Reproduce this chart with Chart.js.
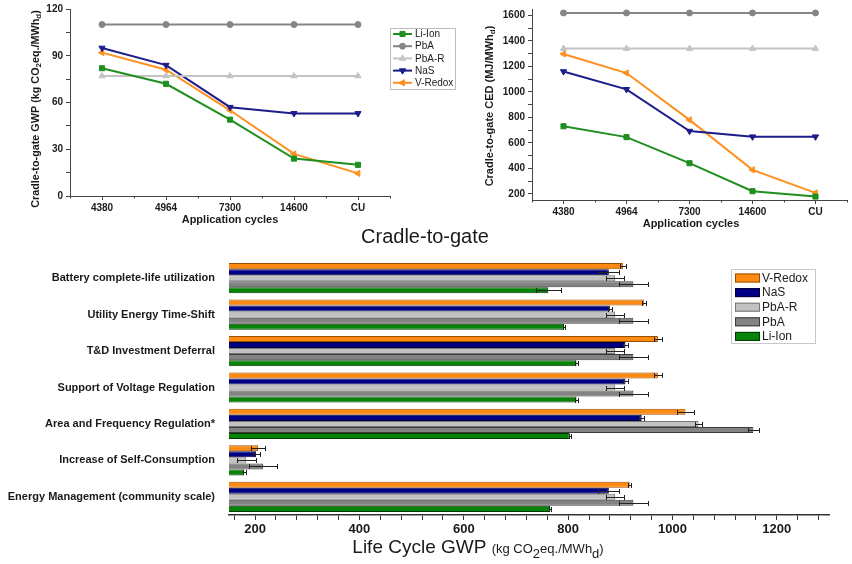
<!DOCTYPE html>
<html>
<head>
<meta charset="utf-8">
<script src="https://cdn.jsdelivr.net/npm/chart.js@4.4.0/dist/chart.umd.min.js"></script>
<style>
  html, body { margin: 0; padding: 0; background: #fff; }
  #wrap { position: relative; width: 852px; height: 564px; overflow: hidden; }
  canvas { position: absolute; }
</style>
</head>
<body>
<div id="wrap">
  <canvas id="gwp" width="470" height="232" style="left:0;top:0"></canvas>
  <canvas id="ced" width="382" height="232" style="left:470px;top:0"></canvas>
  <canvas id="lcgwp" width="852" height="339" style="left:0;top:225px"></canvas>
</div>
<script>
// --- top charts: cradle-to-gate vs application cycles
const cycles = ['4380', '4964', '7300', '14600', 'CU'];

const gwpLiIon  = [82, 72, 49, 24, 20];
const gwpPbA    = [110, 110, 110, 110, 110];
const gwpPbAR   = [77, 77, 77, 77, 77];
const gwpNaS    = [95, 84, 57, 53, 53];
const gwpVRedox = [92, 81, 55, 27, 14.5];
const gwpTicks  = [0, 30, 60, 90, 120];

const cedLiIon  = [730, 645, 440, 220, 178];
const cedPbA    = [1620, 1620, 1620, 1620, 1620];
const cedPbAR   = [1340, 1340, 1340, 1340, 1340];
const cedNaS    = [1160, 1020, 692, 648, 648];
const cedVRedox = [1298, 1148, 780, 388, 207];
const cedTicks  = [200, 400, 600, 800, 1000, 1200, 1400, 1600];

// --- bottom chart: life cycle GWP per application
const applications = [
  'Battery complete-life utilization',
  'Utility Energy Time-Shift',
  'T&D Investment Deferral',
  'Support of Voltage Regulation',
  'Area and Frequency Regulation*',
  'Increase of Self-Consumption',
  'Energy Management (community scale)'
];
const lcVRedox = [905, 946, 972, 972, 1025, 206, 918];
const lcNaS    = [878, 880, 910, 910, 941, 202, 878];
const lcPbAR   = [890, 890, 890, 890, 1050, 183, 890];
const lcPbA    = [925, 925, 925, 925, 1155, 215, 925];
const lcLiIon  = [762, 792, 816, 816, 803, 179, 766];
const errVRedox = [6, 4, 7, 7, 17, 13, 3];
const errNaS    = [20, 4, 4, 4, 5, 8, 20];
const errPbAR   = [18, 18, 18, 18, 7, 18, 18];
const errPbA    = [28, 28, 28, 28, 10, 27, 28];
const errLiIon  = [24, 2, 2, 2, 2, 3, 2];
const lcTicks   = [200, 400, 600, 800, 1000, 1200];

const FONT = '"Liberation Sans", Arial, Helvetica, sans-serif';
Chart.defaults.font.family = FONT;
Chart.defaults.color = '#1a1a1a';

const C = {
  li: '#1f8f1f', pba: '#858585', pbar: '#c4c4c4', nas: '#1c1c8a', vr: '#ff9020'
};

// text made of pieces, some of them subscripts
function drawRich(ctx, parts, x, y, rotate, bold) {
  ctx.save();
  ctx.translate(x, y);
  if (rotate) ctx.rotate(-Math.PI / 2);
  const f = p => (bold ? 'bold ' : '') + p.s + 'px ' + FONT;
  let total = 0;
  parts.forEach(p => { ctx.font = f(p); total += ctx.measureText(p.t).width; });
  let cx = -total / 2;
  ctx.textAlign = 'left';
  ctx.textBaseline = 'middle';
  ctx.fillStyle = '#1a1a1a';
  parts.forEach(p => {
    ctx.font = f(p);
    ctx.fillText(p.t, cx, p.dy || 0);
    cx += ctx.measureText(p.t).width;
  });
  ctx.restore();
}

function lineSet(label, data, color, style, rot) {
  const r = { rect: 3.6, circle: 3, triangle: 3.6 }[style];
  return {
    label, data,
    borderColor: color, backgroundColor: color,
    borderWidth: 2, pointStyle: style, pointRotation: rot || 0,
    pointRadius: r, pointBorderWidth: 1,
    tension: 0
  };
}

function withMinor(major) {
  const step = major[1] - major[0];
  const out = [];
  major.forEach((v, i) => { out.push(v); if (i < major.length - 1) out.push(v + step / 2); });
  return out;
}

const lineLegend = {
  id: 'lineLegend',
  afterDraw(chart) {
    const o = chart.options.plugins.lineLegend;
    if (!o || !o.show) return;
    const ctx = chart.ctx;
    ctx.save();
    ctx.strokeStyle = '#bdbdbd';
    ctx.lineWidth = 1;
    ctx.strokeRect(o.x + 0.5, o.y + 0.5, o.w, o.h);
    chart.data.datasets.forEach((ds, i) => {
      const y = o.y + 6 + i * o.gap;
      ctx.strokeStyle = ds.borderColor;
      ctx.lineWidth = 2;
      ctx.beginPath(); ctx.moveTo(o.x + 3, y); ctx.lineTo(o.x + 22, y); ctx.stroke();
      ctx.fillStyle = ds.backgroundColor;
      ctx.strokeStyle = ds.borderColor;
      ctx.lineWidth = 1;
      Chart.helpers.drawPoint(ctx, {
        pointStyle: ds.pointStyle, rotation: ds.pointRotation,
        radius: ds.pointRadius, borderWidth: 1
      }, o.x + 12.5, y);
      ctx.fillStyle = '#1a1a1a';
      ctx.font = '10px ' + FONT;
      ctx.textAlign = 'left'; ctx.textBaseline = 'middle';
      ctx.fillText(ds.label, o.x + 25, y + 0.5);
    });
    ctx.restore();
  }
};

// minor tick marks halfway between categories on the x axis
const catMinor = {
  id: 'catMinor',
  afterDraw(chart) {
    const xs = chart.scales.x, ctx = chart.ctx;
    const n = chart.data.labels.length;
    const step = xs.getPixelForValue(1) - xs.getPixelForValue(0);
    ctx.save();
    ctx.strokeStyle = '#444';
    ctx.lineWidth = 1;
    ctx.beginPath();
    for (let i = 0; i <= n; i++) {
      const x = Math.round(xs.getPixelForValue(0) + (i - 0.5) * step) + 0.5;
      ctx.moveTo(x, xs.top); ctx.lineTo(x, xs.top + 2.5);
    }
    ctx.stroke();
    ctx.restore();
  }
};

const titles = {
  id: 'titles',
  afterDraw(chart) {
    const list = chart.options.plugins.titles.items || [];
    list.forEach(t => drawRich(chart.ctx, t.parts, t.x, t.y, t.rotate, t.bold));
  }
};

function lineOptions(yMin, yMax, majors, yWidth, xHeight, padding, texts, legend) {
  return {
    responsive: false, animation: false, devicePixelRatio: 1,
    layout: { padding },
    plugins: { legend: { display: false }, tooltip: { enabled: false },
      lineLegend: legend, titles: { items: texts } },
    scales: {
      x: {
        offset: true,
        grid: { drawOnChartArea: false, tickLength: 4, color: '#444' },
        border: { color: '#444', width: 1 },
        ticks: { font: { size: 10, weight: 'bold' }, padding: 2, color: '#1a1a1a' },
        afterFit: s => { s.height = xHeight; }
      },
      y: {
        min: yMin, max: yMax,
        afterBuildTicks: ax => { ax.ticks = withMinor(majors).map(v => ({ value: v })); },
        grid: { drawOnChartArea: false, tickLength: 4, color: '#444' },
        border: { color: '#444', width: 1 },
        ticks: { font: { size: 10, weight: 'bold' }, padding: 3, autoSkip: false,
          color: '#1a1a1a', callback: v => majors.includes(v) ? v : '' },
        afterFit: s => { s.width = yWidth; }
      }
    }
  };
}

const sub = (s, size) => ({ t: s, s: size || 8, dy: 3 });

new Chart(document.getElementById('gwp'), {
  type: 'line',
  data: {
    labels: cycles,
    datasets: [
      lineSet('Li-Ion', gwpLiIon, C.li, 'rect'),
      lineSet('PbA', gwpPbA, C.pba, 'circle'),
      lineSet('PbA-R', gwpPbAR, C.pbar, 'triangle'),
      lineSet('NaS', gwpNaS, C.nas, 'triangle', 180),
      lineSet('V-Redox', gwpVRedox, C.vr, 'triangle', 270)
    ]
  },
  options: lineOptions(0, 120, gwpTicks, 70, 36, { top: 7, right: 80, left: 0, bottom: 0 }, [
    { parts: [{ t: 'Cradle-to-gate GWP (kg CO', s: 10.8 }, sub('2'), { t: 'eq./MWh', s: 10.8 }, sub('d'), { t: ')', s: 10.8 }],
      x: 36, y: 109, rotate: true, bold: true },
    { parts: [{ t: 'Application cycles', s: 11 }], x: 230, y: 220, bold: true }
  ], { show: true, x: 390, y: 28, w: 65, h: 61, gap: 12.2 }),
  plugins: [lineLegend, catMinor, titles]
});

new Chart(document.getElementById('ced'), {
  type: 'line',
  data: {
    labels: cycles,
    datasets: [
      lineSet('Li-Ion', cedLiIon, C.li, 'rect'),
      lineSet('PbA', cedPbA, C.pba, 'circle'),
      lineSet('PbA-R', cedPbAR, C.pbar, 'triangle'),
      lineSet('NaS', cedNaS, C.nas, 'triangle', 180),
      lineSet('V-Redox', cedVRedox, C.vr, 'triangle', 270)
    ]
  },
  options: lineOptions(151, 1651, cedTicks, 62, 32, { top: 6, right: 2, left: 0, bottom: 0 }, [
    { parts: [{ t: 'Cradle-to-gate CED (MJ/MWh', s: 11 }, sub('d'), { t: ')', s: 11 }],
      x: 20, y: 106, rotate: true, bold: true },
    { parts: [{ t: 'Application cycles', s: 11 }], x: 221, y: 224, bold: true }
  ], { show: false }),
  plugins: [lineLegend, catMinor, titles]
});

// --- bottom bar chart
const errorBars = {
  id: 'errorBars',
  afterDatasetsDraw(chart) {
    const ctx = chart.ctx, xs = chart.scales.x;
    ctx.save();
    ctx.strokeStyle = '#222';
    ctx.lineWidth = 1;
    chart.data.datasets.forEach((ds, i) => {
      chart.getDatasetMeta(i).data.forEach((bar, j) => {
        const v = ds.data[j], e = ds.err[j];
        const x1 = Math.round(xs.getPixelForValue(v - e)) + 0.5;
        const x2 = Math.round(xs.getPixelForValue(v + e)) + 0.5;
        const y = Math.round(bar.y) + 0.5;
        ctx.beginPath();
        ctx.moveTo(x1, y); ctx.lineTo(x2, y);
        ctx.moveTo(x1, y - 2.5); ctx.lineTo(x1, y + 2.5);
        ctx.moveTo(x2, y - 2.5); ctx.lineTo(x2, y + 2.5);
        ctx.stroke();
      });
    });
    ctx.restore();
  }
};

const barLegend = {
  id: 'barLegend',
  afterDraw(chart) {
    const ctx = chart.ctx;
    const bx = 731, by = 44;
    ctx.save();
    ctx.strokeStyle = '#c8c8c8';
    ctx.lineWidth = 1;
    ctx.strokeRect(bx + 0.5, by + 0.5, 84, 74);
    chart.data.datasets.forEach((ds, i) => {
      const y = by + 8.5 + i * 14.6;
      ctx.fillStyle = ds.backgroundColor;
      ctx.fillRect(bx + 4, y - 4, 25, 9);
      ctx.strokeStyle = ds.borderColor;
      ctx.strokeRect(bx + 4.5, y - 3.5, 24, 8);
      ctx.fillStyle = '#1a1a1a';
      ctx.font = '12px ' + FONT;
      ctx.textAlign = 'left'; ctx.textBaseline = 'middle';
      ctx.fillText(ds.label, bx + 31, y + 1);
    });
    drawRich(ctx, [{ t: 'Cradle-to-gate', s: 20 }], 425, 12, false, false);
    drawRich(ctx, [
      { t: 'Life Cycle GWP ', s: 19 }, { t: '(kg CO', s: 13, dy: 1 }, { t: '2', s: 13, dy: 6 },
      { t: 'eq./MWh', s: 13, dy: 1 }, { t: 'd', s: 13, dy: 6 }, { t: ')', s: 13, dy: 1 }
    ], 478, 323, false, false);
    ctx.restore();
  }
};

function barSet(label, data, err, fill, border) {
  return { label, data, err, backgroundColor: fill, borderColor: border, borderWidth: 1 };
}

new Chart(document.getElementById('lcgwp'), {
  type: 'bar',
  data: {
    labels: applications,
    datasets: [
      barSet('V-Redox', lcVRedox, errVRedox, '#ff8a12', '#9a5000'),
      barSet('NaS', lcNaS, errNaS, '#000084', '#000038'),
      barSet('PbA-R', lcPbAR, errPbAR, '#c2c2c2', '#777777'),
      barSet('PbA', lcPbA, errPbA, '#838383', '#3c3c3c'),
      barSet('Li-Ion', lcLiIon, errLiIon, '#078407', '#013801')
    ]
  },
  options: {
    responsive: false, animation: false, devicePixelRatio: 1,
    indexAxis: 'y',
    layout: { padding: { top: 35, right: 23, left: 0, bottom: 0 } },
    datasets: { bar: { categoryPercentage: 0.83, barPercentage: 1.0 } },
    plugins: { legend: { display: false }, tooltip: { enabled: false } },
    scales: {
      x: {
        min: 150, max: 1300,
        afterBuildTicks: ax => {
          const t = [];
          for (let v = 160; v <= 1280; v += 40) t.push({ value: v });
          ax.ticks = t;
        },
        grid: { drawOnChartArea: false, tickLength: 5, color: '#333' },
        border: { color: '#333', width: 1.5 },
        ticks: { autoSkip: false, maxRotation: 0, font: { size: 13, weight: 'bold' }, padding: 2,
          color: '#1a1a1a', callback: v => lcTicks.includes(v) ? v : '' },
        afterFit: s => { s.height = 49; }
      },
      y: {
        grid: { display: false },
        border: { display: false },
        ticks: { font: { size: 11, weight: 'bold' }, padding: 6, color: '#1a1a1a' },
        afterFit: s => { s.width = 229; }
      }
    }
  },
  plugins: [errorBars, barLegend]
});
</script>
</body>
</html>
